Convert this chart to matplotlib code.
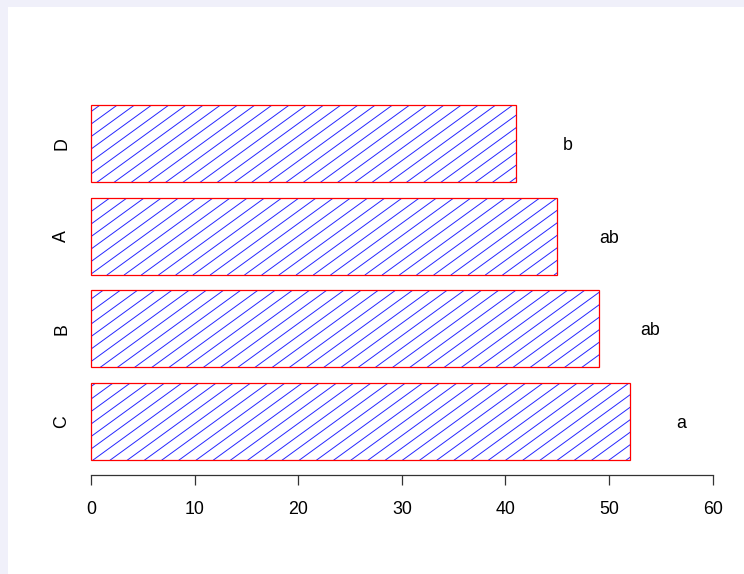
import numpy as np
import matplotlib
matplotlib.use("Agg")
import matplotlib.pyplot as plt
from matplotlib.patches import Rectangle

# data, bottom to top as in the picture
groups = ['C', 'B', 'A', 'D']
values = [52, 49, 45, 41]
letters = ['a', 'ab', 'ab', 'b']

plt.rcParams['font.family'] = ['Liberation Sans', 'DejaVu Sans']

W, H = 744, 574
fig = plt.figure(figsize=(W / 100, H / 100), dpi=100, facecolor='#f0f0fa')
# white drawing area (lavender strip at top and left)
fig.patches.append(Rectangle((8 / W, 0), 1, (H - 7) / H, transform=fig.transFigure,
                             facecolor='white', edgecolor='none', zorder=-5))

ax = fig.add_axes([91 / W, (H - 460) / H, (712.7 - 91) / W, 355 / H])
ax.set_facecolor('none')

# R barplot layout: width 1, space 0.2
pos = 0.2 + 1.2 * np.arange(len(values)) + 0.5
bars = ax.barh(pos, values, height=1.0, color='white', edgecolor='#ff0000',
               linewidth=0.9, clip_on=False)

ax.set_xlim(0, 60)
ax.set_ylim(0.2, 4.8)

# hatch lines drawn in pixel space, clipped to each bar
theta = np.deg2rad(36)
cot = 1 / np.tan(theta)
step = 17.2
inv = ax.transData.inverted()
for rect in bars:
    x0, y0 = ax.transData.transform((rect.get_x(), rect.get_y()))
    x1, y1 = ax.transData.transform((rect.get_x() + rect.get_width(), rect.get_y() + rect.get_height()))
    cmin = x0 - y1 * cot
    cmax = x1 - y0 * cot
    for k in np.arange(np.floor(cmin / step), np.ceil(cmax / step) + 1):
        c = k * step + 5
        p = inv.transform([(c + y0 * cot, y0), (c + y1 * cot, y1)])
        ln, = ax.plot(p[:, 0], p[:, 1], color='#0000ff', lw=0.7, alpha=0.85, zorder=1)
        ln.set_clip_path(rect)
    rect.set_zorder(2)
    rect.set_facecolor('none')

for v, y, t in zip(values, pos, letters):
    ax.text(v + 5, y, t, ha='center', va='center_baseline', fontsize=12.8, clip_on=False)

for s in ['top', 'right', 'left']:
    ax.spines[s].set_visible(False)
ax.spines['bottom'].set_position(('outward', 10.8))
ax.spines['bottom'].set_linewidth(0.9)
ax.spines['bottom'].set_color('#333333')

ax.set_xticks([0, 10, 20, 30, 40, 50, 60])
ax.tick_params(axis='x', length=7.5, width=0.9, color='#333333', pad=11, labelsize=12.8)
ax.set_yticks(pos)
ax.set_yticklabels(groups, rotation=90, va='center', ha='right')
ax.tick_params(axis='y', length=0, pad=15, labelsize=12.8)

fig.savefig('out.png', dpi=100, facecolor=fig.get_facecolor())
